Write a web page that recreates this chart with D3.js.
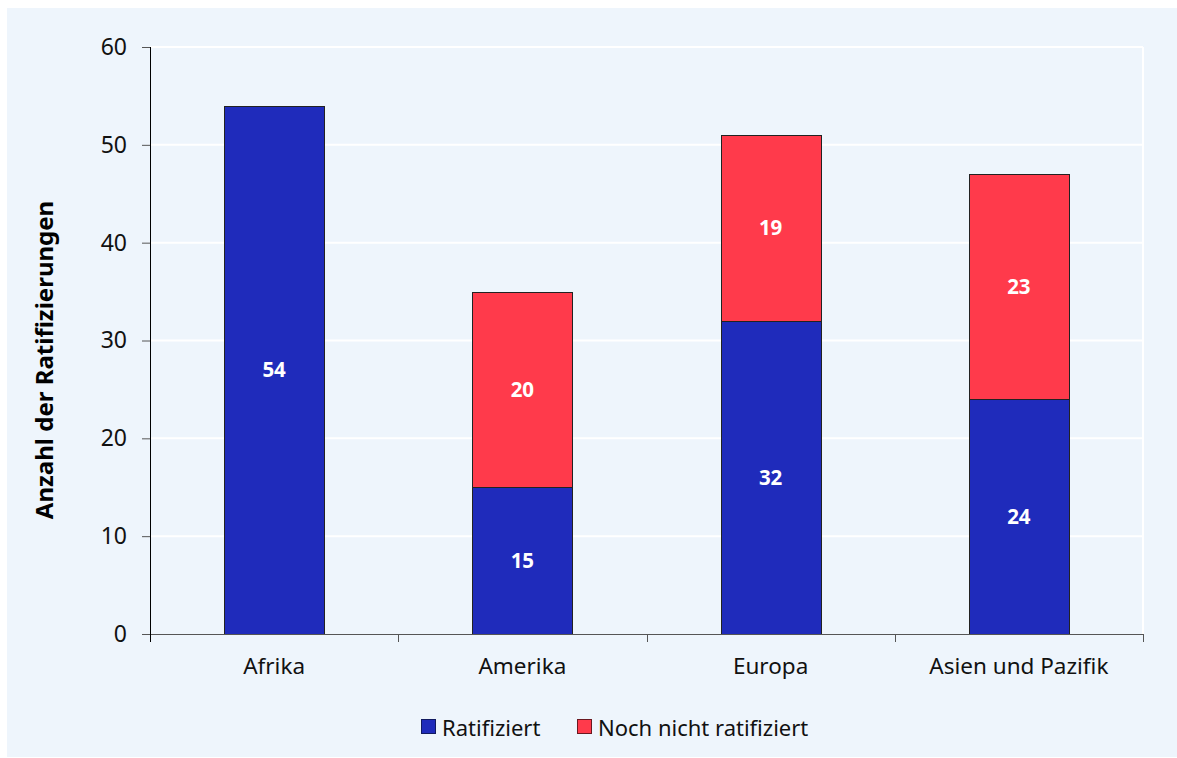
<!DOCTYPE html>
<html><head><meta charset="utf-8">
<script src="https://cdn.jsdelivr.net/npm/d3@7"></script>
<style>body{margin:0;background:#fff;font-family:"Noto Sans","Open Sans",sans-serif;}</style>
</head><body><svg id="c" width="1177" height="758"></svg>
<script>
const categories = ["Afrika", "Amerika", "Europa", "Asien und Pazifik"];
const ratified = [54, 15, 32, 24];
const notRatified = [0, 20, 19, 23];
const seriesNames = ["Ratifiziert", "Noch nicht ratifiziert"];
const yTicks = [0, 10, 20, 30, 40, 50, 60];
const colors = ["#1F2BBB", "#FF3A4B"];

const svg = d3.select("#c");
const font = '"Noto Sans","Open Sans",sans-serif';
svg.append("rect").attr("x",7).attr("y",8).attr("width",1170).attr("height",749).attr("fill","#EEF5FC");

const m = {l:150, r:1143, t:47, b:634};
const x = d3.scaleBand().domain(categories).range([m.l, m.r]).paddingInner(0.597).paddingOuter(0.2985);
const xb = d3.scaleBand().domain(categories).range([m.l, m.r]);
const y = d3.scaleLinear().domain([0,60]).range([m.b, m.t]);

// grid
svg.append("g").selectAll("line").data(yTicks.filter(d=>d>0)).join("line")
  .attr("x1",m.l).attr("x2",m.r).attr("y1",d=>y(d)).attr("y2",d=>y(d))
  .attr("stroke","#ffffff").attr("stroke-width",2);
svg.append("line").attr("x1",m.r).attr("x2",m.r).attr("y1",m.t).attr("y2",m.b).attr("stroke","#fff").attr("stroke-width",2);

const data = categories.map((c,i)=>({cat:c, vals:[ratified[i], notRatified[i]]}));
const stack = d3.stack().keys([0,1]).value((d,k)=>d.vals[k]);
const stacked = stack(data);

stacked.forEach((s,k)=>{
  const g = svg.append("g");
  s.forEach((d,i)=>{
    const v = d[1]-d[0];
    if (v<=0) return;
    g.append("rect").attr("x",Math.round(x(categories[i]))+0.5).attr("width",Math.round(x.bandwidth()))
      .attr("y",Math.round(y(d[1]))+0.5).attr("height",Math.round(y(d[0]))-Math.round(y(d[1])))
      .attr("fill",colors[k]).attr("stroke","#222").attr("stroke-width",1);
    g.append("text").attr("x",x(categories[i])+x.bandwidth()/2).attr("y",y((d[0]+d[1])/2))
      .attr("dy","0.35em").attr("text-anchor","middle").attr("fill","#fff")
      .attr("font-weight","bold").attr("font-size",20.5).attr("font-family",font).text(v);
  });
});

// y axis
const ya = svg.append("g").attr("transform",`translate(${m.l},0)`)
  .call(d3.axisLeft(y).tickValues(yTicks).tickSize(8).tickPadding(15));
ya.select(".domain").attr("stroke","#000").attr("d",`M0.5,${m.t}V${m.b}`);
ya.selectAll(".tick line").attr("stroke","#555");
ya.selectAll("text").attr("font-size",23).attr("font-family",font).attr("fill","#111");

// x axis
const xa = svg.append("g").attr("transform",`translate(0,${m.b})`);
xa.append("line").attr("x1",m.l-8).attr("x2",m.r).attr("y1",0.5).attr("y2",0.5).attr("stroke","#555");
const bounds = [m.l].concat(categories.map(c=>xb(c)+xb.bandwidth()));
xa.selectAll(".bt").data(bounds).join("line").attr("class","bt")
  .attr("x1",d=>Math.round(d)+0.5).attr("x2",d=>Math.round(d)+0.5).attr("y1",0).attr("y2",8)
  .attr("stroke",(d,i)=>i===0?"#000":"#555");
xa.selectAll("text").data(categories).join("text")
  .attr("x",d=>xb(d)+xb.bandwidth()/2).attr("y",40).attr("text-anchor","middle")
  .attr("font-size",22.5).attr("font-family",font).attr("fill","#111").text(d=>d);

// y title
svg.append("text").attr("transform","translate(53,360) rotate(-90)").attr("text-anchor","middle")
  .attr("font-size",24).attr("font-weight","bold").attr("font-family",font).attr("fill","#000")
  .text("Anzahl der Ratifizierungen");

// legend
const lx = [421, 577];
seriesNames.forEach((n,k)=>{
  svg.append("rect").attr("x",lx[k]+0.5).attr("y",719.5).attr("width",14).attr("height",14)
    .attr("fill",colors[k]).attr("stroke",k===0?"#111a60":"#6a1820");
  svg.append("text").attr("x",lx[k]+21).attr("y",736).attr("font-size",22).attr("font-family",font)
    .attr("fill","#111").text(n);
});
</script></body></html>
